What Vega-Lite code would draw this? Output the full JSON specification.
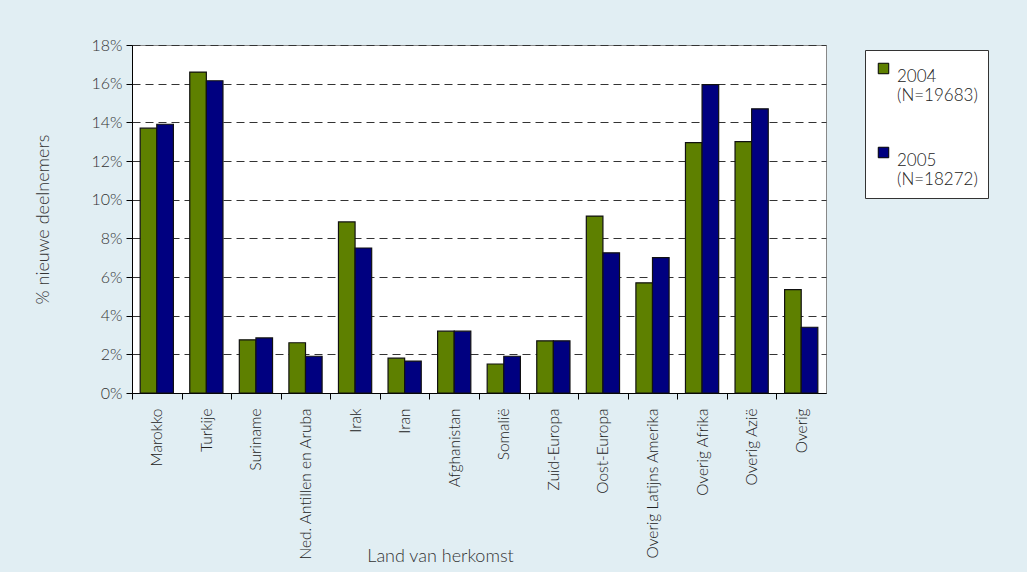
{
  "$schema": "https://vega.github.io/schema/vega-lite/v6.json",
  "width": 694,
  "height": 348,
  "autosize": {"type": "none"},
  "padding": {"left": 132, "top": 45, "right": 201, "bottom": 179},
  "background": "#e1eef3",
  "config": {
    "font": "Lato",
    "view": {"fill": "white", "stroke": "#888888", "strokeWidth": 1}
  },
  "data": {
    "values": [
      {"land": "Marokko", "jaar": "2004|(N=19683)", "pct": 13.7},
      {"land": "Marokko", "jaar": "2005|(N=18272)", "pct": 13.9},
      {"land": "Turkije", "jaar": "2004|(N=19683)", "pct": 16.6},
      {"land": "Turkije", "jaar": "2005|(N=18272)", "pct": 16.15},
      {"land": "Suriname", "jaar": "2004|(N=19683)", "pct": 2.75},
      {"land": "Suriname", "jaar": "2005|(N=18272)", "pct": 2.85},
      {"land": "Ned. Antillen en Aruba", "jaar": "2004|(N=19683)", "pct": 2.6},
      {"land": "Ned. Antillen en Aruba", "jaar": "2005|(N=18272)", "pct": 1.9},
      {"land": "Irak", "jaar": "2004|(N=19683)", "pct": 8.85},
      {"land": "Irak", "jaar": "2005|(N=18272)", "pct": 7.5},
      {"land": "Iran", "jaar": "2004|(N=19683)", "pct": 1.8},
      {"land": "Iran", "jaar": "2005|(N=18272)", "pct": 1.65},
      {"land": "Afghanistan", "jaar": "2004|(N=19683)", "pct": 3.2},
      {"land": "Afghanistan", "jaar": "2005|(N=18272)", "pct": 3.2},
      {"land": "Somalië", "jaar": "2004|(N=19683)", "pct": 1.5},
      {"land": "Somalië", "jaar": "2005|(N=18272)", "pct": 1.9},
      {"land": "Zuid-Europa", "jaar": "2004|(N=19683)", "pct": 2.7},
      {"land": "Zuid-Europa", "jaar": "2005|(N=18272)", "pct": 2.7},
      {"land": "Oost-Europa", "jaar": "2004|(N=19683)", "pct": 9.15},
      {"land": "Oost-Europa", "jaar": "2005|(N=18272)", "pct": 7.25},
      {"land": "Overig Latijns Amerika", "jaar": "2004|(N=19683)", "pct": 5.7},
      {"land": "Overig Latijns Amerika", "jaar": "2005|(N=18272)", "pct": 7.0},
      {"land": "Overig Afrika", "jaar": "2004|(N=19683)", "pct": 12.95},
      {"land": "Overig Afrika", "jaar": "2005|(N=18272)", "pct": 15.95},
      {"land": "Overig Azië", "jaar": "2004|(N=19683)", "pct": 13.0},
      {"land": "Overig Azië", "jaar": "2005|(N=18272)", "pct": 14.7},
      {"land": "Overig", "jaar": "2004|(N=19683)", "pct": 5.35},
      {"land": "Overig", "jaar": "2005|(N=18272)", "pct": 3.4}
    ]
  },
  "mark": {"type": "bar", "stroke": "#111111", "strokeWidth": 1.2},
  "encoding": {
    "x": {
      "field": "land",
      "type": "nominal",
      "sort": null,
      "scale": {"paddingInner": 0.33, "paddingOuter": 0.165},
      "axis": {
        "title": "Land van herkomst",
        "titleFont": "Lato",
        "titleFontSize": 18,
        "titleFontWeight": 300,
        "titleColor": "#333333",
        "titleY": 154,
        "titleX": 308,
        "labelAngle": -90,
        "labelFontSize": 15.5,
        "labelFontWeight": 300,
        "labelColor": "#222222",
        "labelPadding": 9,
        "labelBaseline": "middle",
        "tickOffset": -24.8,
        "labelOffset": 24.8,
        "tickColor": "#000000",
        "tickSize": 6,
        "domainColor": "#000000",
        "labelLimit": 300
      }
    },
    "xOffset": {"field": "jaar", "type": "nominal", "scale": {"paddingInner": 0}},
    "y": {
      "field": "pct",
      "type": "quantitative",
      "scale": {"domain": [0, 18], "nice": false},
      "axis": {
        "title": "% nieuwe deelnemers",
        "titleFont": "Lato",
        "titleFontSize": 18,
        "titleFontWeight": 300,
        "titleColor": "#333333",
        "titlePadding": 38,
        "values": [0, 2, 4, 6, 8, 10, 12, 14, 16, 18],
        "labelExpr": "datum.value + '%'",
        "labelFontSize": 16,
        "labelFontWeight": 300,
        "labelColor": "#333333",
        "labelPadding": 4,
        "tickColor": "#000000",
        "tickSize": 6,
        "domainColor": "#000000",
        "gridColor": "#333333",
        "gridDash": [8, 5],
        "gridWidth": 1
      }
    },
    "color": {
      "field": "jaar",
      "type": "nominal",
      "scale": {"range": ["#5e8000", "#000080"]},
      "legend": {
        "title": null,
        "orient": "none",
        "legendX": 733,
        "legendY": 5,
        "fillColor": "white",
        "strokeColor": "#333333",
        "padding": 10,
        "symbolType": "square",
        "symbolSize": 110,
        "symbolStrokeColor": "#000000",
        "symbolStrokeWidth": 1,
        "labelExpr": "split(datum.label, '|')",
        "labelFontSize": 17,
        "labelFontWeight": 300,
        "labelColor": "#222222",
        "labelBaseline": "top",
        "labelOffset": 5,
        "rowPadding": 40,
        "labelLimit": 200
      }
    }
  }
}
